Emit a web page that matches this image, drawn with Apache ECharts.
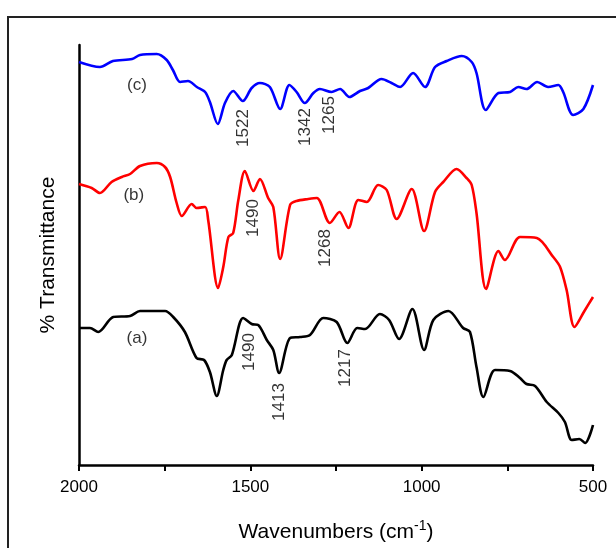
<!DOCTYPE html>
<html>
<head>
<meta charset="utf-8">
<script src="https://cdn.jsdelivr.net/npm/echarts@6/dist/echarts.min.js"></script>
<style>
  html, body { margin: 0; padding: 0; background: #fff; }
  #chart { width: 616px; height: 548px; }
</style>
</head>
<body>
<div id="chart"></div>
<script>
// FTIR spectra, arbitrary transmittance units (curves stacked with offsets)

// (a) black
const waveA = [2000, 1968, 1944, 1900, 1851, 1822, 1749, 1725, 1691, 1657, 1635, 1618, 1598, 1579, 1569, 1554,
  1521, 1496, 1477, 1452, 1433, 1416, 1384, 1355, 1326, 1287, 1248, 1217, 1188, 1165, 1122, 1095, 1066,
  1027, 993, 966, 922, 879, 859, 840, 820, 786, 742, 713, 694, 669, 635, 601, 582, 562, 540, 523, 500];
const transA = [137, 137, 133, 148, 149, 154, 154, 148, 133, 107, 105, 93, 69, 95, 105, 110,
  147, 141, 140, 125, 115, 92, 127, 128, 130, 147, 143, 122, 137, 136, 151, 145, 126,
  156, 115, 145, 154, 137, 133, 98, 68, 95, 94, 87, 81, 79, 63, 52, 43, 25, 26, 22, 40];

// (b) red
const waveB = [2000, 1963, 1939, 1905, 1875, 1851, 1822, 1773, 1749, 1734, 1715, 1700, 1671, 1657, 1632, 1623,
  1594, 1579, 1564, 1550, 1535, 1516, 1491, 1472, 1448, 1433, 1413, 1384, 1365, 1331, 1306, 1268, 1240,
  1214, 1185, 1160, 1127, 1102, 1073, 1029, 993, 961, 937, 898, 869, 854, 840, 812, 776, 757, 713, 664,
  616, 596, 577, 554, 525, 500];
const transB = [281, 277, 272, 283, 288, 291, 299, 302, 298, 288, 262, 249, 261, 257, 258, 245,
  177, 198, 228, 232, 265, 294, 274, 286, 267, 258, 206, 260, 264, 266, 267, 242, 253,
  237, 265, 263, 280, 275, 246, 276, 234, 273, 283, 296, 287, 280, 252, 176, 214, 205, 228, 227,
  208, 198, 175, 138, 154, 168];

// (c) blue
const waveC = [2000, 1939, 1901, 1845, 1822, 1773, 1744, 1726, 1705, 1682, 1656, 1632, 1618, 1595, 1574, 1550,
  1522, 1496, 1472, 1443, 1413, 1386, 1365, 1341, 1316, 1297, 1263, 1238, 1211, 1180, 1156, 1117, 1088,
  1063, 1025, 990, 961, 927, 883, 854, 840, 813, 776, 742, 718, 694, 663, 631, 601, 587, 558, 528, 500];
const transC = [403, 398, 404, 406, 410, 411, 405, 395, 383, 384, 378, 373, 363, 341, 362, 374,
  364, 377, 382, 378, 356, 380, 373, 362, 372, 376, 373, 376, 368, 374, 377, 386, 382,
  378, 392, 378, 398, 404, 409, 403, 392, 355, 372, 373, 378, 376, 383, 378, 380, 373, 350, 356, 380];

// peak annotations: text, wavenumber, level
const peakText = ['1522', '1342', '1265', '1490', '1268', '1490', '1413', '1217'];
const peakWave = [1521, 1341, 1269, 1492, 1281, 1502, 1416, 1224];
const peakLevel = [337, 338, 350, 247, 217, 113, 63, 97];

// curve tags
const tagText = ['(c)', '(b)', '(a)'];
const tagWave = [1831, 1840, 1831];
const tagLevel = [380, 270, 127];

const xTicks = [2000, 1500, 1000, 500];

function pairs(xs, ys) {
  return xs.map((x, i) => [x, ys[i]]);
}

const FONT = 'Liberation Sans, Arial, sans-serif';

function spectrum(name, xs, ys, color) {
  return {
    name: name,
    type: 'line',
    data: pairs(xs, ys),
    smooth: 0.3,
    symbol: 'none',
    lineStyle: { color: color, width: 2.6 },
    silent: true
  };
}

const chart = echarts.init(document.getElementById('chart'));

chart.setOption({
  animation: false,
  backgroundColor: '#fff',
  graphic: [{
    type: 'rect',
    shape: { x: 8, y: 17, width: 640, height: 560 },
    style: { fill: 'none', stroke: '#222', lineWidth: 2 },
    silent: true
  }],
  grid: { left: 79, right: 23, top: 45, bottom: 83, outerBoundsMode: 'none', containLabel: false },
  xAxis: {
    type: 'value',
    min: 500,
    max: 2000,
    interval: 250,
    inverse: true,
    name: 'Wavenumbers (cm{sup|-1})',
    nameLocation: 'middle',
    nameGap: 54,
    nameTextStyle: {
      fontFamily: FONT, fontSize: 21, color: '#000',
      rich: {
        sup: { fontFamily: FONT, fontSize: 14, color: '#000', padding: [0, 0, 12, 0] }
      }
    },
    axisLine: { lineStyle: { color: '#000', width: 2.5 } },
    axisTick: { inside: false, length: 6, lineStyle: { color: '#000', width: 2 } },
    axisLabel: {
      fontFamily: FONT, fontSize: 17, color: '#000', margin: 14,
      formatter: v => xTicks.includes(v) ? String(v) : ''
    },
    splitLine: { show: false }
  },
  yAxis: {
    type: 'value',
    min: 0,
    max: 420,
    name: '% Transmittance',
    nameLocation: 'middle',
    nameGap: 20,
    nameTextStyle: { fontFamily: FONT, fontSize: 21, color: '#000' },
    axisLine: { show: true, lineStyle: { color: '#000', width: 2.5 } },
    axisTick: { show: false },
    axisLabel: { show: false },
    splitLine: { show: false }
  },
  series: [
    spectrum('(a)', waveA, transA, '#000000'),
    spectrum('(b)', waveB, transB, '#ff0000'),
    spectrum('(c)', waveC, transC, '#0000ff'),
    {
      type: 'scatter',
      symbolSize: 0,
      silent: true,
      data: peakText.map((t, i) => ({ value: [peakWave[i], peakLevel[i]], name: t })),
      label: {
        show: true, position: 'inside', rotate: 90,
        formatter: p => p.name,
        fontFamily: FONT, fontSize: 17, color: '#000'
      }
    },
    {
      type: 'scatter',
      symbolSize: 0,
      silent: true,
      data: tagText.map((t, i) => ({ value: [tagWave[i], tagLevel[i]], name: t })),
      label: {
        show: true, position: 'inside',
        formatter: p => p.name,
        fontFamily: FONT, fontSize: 17, color: '#000'
      }
    }
  ]
});
</script>
</body>
</html>
